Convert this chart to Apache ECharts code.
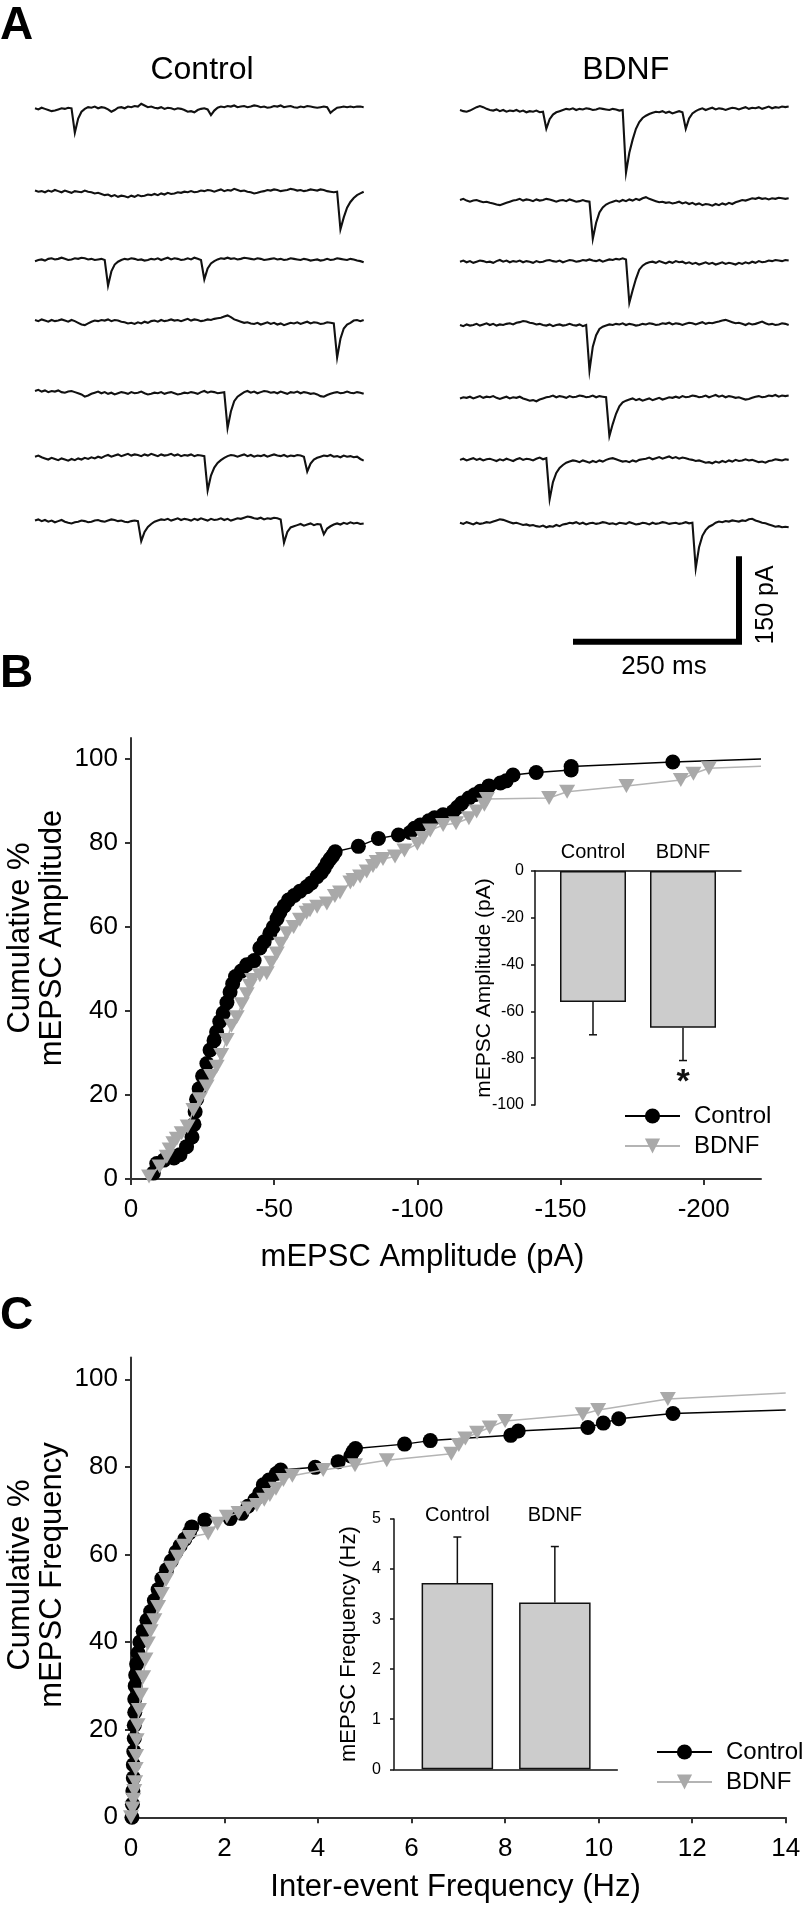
<!DOCTYPE html>
<html><head><meta charset="utf-8">
<script src="https://cdn.jsdelivr.net/npm/echarts@6/dist/echarts.min.js"></script>
<style>html,body{margin:0;padding:0;background:#fff}#c{width:808px;height:1917px}</style>
</head><body><div id="c"></div>
<script>
// ---------------- DATA ----------------
const sampleMs = 5;            // trace sampling step (ms)
const ctrlTrace1 = [0,-2,1,-1,-3,-5,-4,-2,0,-1,1,0,-43,-18,-6,-1,2,1,3,0,2,1,-2,-6,-3,1,2,0,3,2,4,3,8,5,2,3,1,0,2,-1,1,0,-2,0,-1,-3,-6,-5,-7,-3,-1,0,-2,-12,-4,1,3,2,4,3,5,2,3,4,2,3,5,4,2,3,1,2,4,3,5,2,3,4,2,1,3,2,4,3,2,1,2,3,2,-8,-3,1,2,3,2,3,2,3,3,2];
const ctrlTrace2 = [2,0,1,-1,2,0,3,1,-1,2,0,-2,1,0,-1,2,0,-1,-3,-2,-4,-6,-5,-8,-6,-9,-7,-8,-10,-7,-9,-6,-8,-7,-5,-6,-4,-6,-3,-5,-2,-4,-3,-1,-2,0,-1,1,-1,0,2,1,3,2,0,2,4,1,3,2,5,3,1,2,0,-1,-3,-2,0,1,3,2,4,3,1,2,3,5,4,2,3,1,2,4,3,2,4,3,1,0,-1,0,-66,-45,-28,-18,-11,-6,-3,0];
const ctrlTrace3 = [-2,0,1,-1,2,3,1,2,4,2,0,1,3,2,4,3,1,2,0,1,2,0,-45,-20,-8,-3,0,2,1,3,2,0,1,-1,0,2,1,3,0,2,4,1,3,2,0,1,3,1,4,2,0,-34,-15,-6,-2,1,3,2,4,2,3,1,2,4,3,2,1,3,2,0,1,2,3,1,2,0,1,3,2,1,0,2,1,-1,0,1,-1,0,2,0,1,3,2,1,0,2,1,-1,-2,-4];
const ctrlTrace4 = [3,1,4,2,0,3,1,2,4,2,0,3,1,-2,-5,-6,-3,0,2,1,3,2,4,1,3,2,0,-1,-3,-2,-4,-1,-3,0,-2,1,2,0,3,1,2,4,2,3,1,3,5,2,4,3,1,2,4,3,5,6,7,9,11,8,4,2,0,-2,-1,-3,-4,-2,-5,-3,-1,-4,-2,-5,-3,-6,-4,-2,-3,-1,-4,-2,0,-3,-1,-2,-4,-3,-1,-2,-3,-63,-30,-12,-5,-2,2,3,1,3];
const ctrlTrace5 = [3,5,2,4,1,3,2,4,1,0,2,3,1,-1,-3,-7,-5,-2,0,2,-1,1,-2,0,-3,-1,1,0,-2,1,-1,0,2,-1,-3,-2,0,-1,1,-2,0,1,-1,-3,-2,0,-1,1,0,-2,1,3,0,2,1,-1,0,1,-62,-33,-15,-7,-3,1,3,0,2,-1,1,3,2,0,1,-1,2,0,-2,1,0,2,-1,1,0,-2,-1,-3,-6,-7,-4,-2,0,1,-1,0,2,0,-1,1,0,-2];
const ctrlTrace6 = [0,2,-1,-3,-5,-2,-4,-6,-3,-5,-7,-4,-6,-3,-5,-2,-4,-1,-3,0,-2,1,3,0,2,4,1,3,5,2,4,3,1,4,2,5,3,1,4,2,3,5,2,4,1,3,2,4,1,3,2,1,-59,-33,-19,-11,-6,-2,1,3,2,0,2,4,1,3,0,2,1,3,0,2,4,2,1,3,0,2,1,3,2,0,-26,-12,-5,-2,0,2,1,3,0,1,-1,2,0,1,-1,0,-4,-7];
const ctrlTrace7 = [2,4,1,3,0,2,-1,1,3,0,-2,-3,-1,0,2,1,-1,0,2,3,1,0,2,4,3,1,2,0,-1,1,2,1,-34,-18,-9,-4,0,2,4,3,5,2,4,6,3,5,4,2,5,3,6,4,2,5,3,4,6,3,5,2,4,6,5,7,9,8,6,5,7,4,6,5,7,6,4,-37,-18,-10,-8,-6,-4,-7,-5,-3,-6,-4,-5,-22,-12,-8,-5,-3,-5,-2,-4,-1,-3,-2,-4,-3];
const bdnfTrace1 = [0,-2,-3,-1,2,5,7,5,2,0,-1,1,-2,0,-3,-1,-2,0,-3,-1,-4,-2,-3,-1,-4,-3,-33,-16,-8,-4,-2,0,2,1,3,0,2,1,3,2,0,1,3,2,1,0,2,1,-1,0,-110,-75,-52,-33,-21,-14,-10,-7,-5,-3,-4,-2,-5,-3,-6,-4,-2,-4,-33,-15,-6,-2,1,3,0,2,4,1,3,2,0,2,4,3,1,3,5,2,4,3,5,2,4,6,3,5,4,6,5,6];
const bdnfTrace2 = [0,2,-1,-3,-1,0,-2,-4,-3,-5,-6,-8,-9,-7,-5,-3,-1,0,2,-1,1,0,-2,1,-1,0,2,1,-1,-3,-1,0,-2,1,-1,-3,-2,0,-2,-3,-68,-40,-22,-13,-8,-5,-3,-1,-3,0,-2,1,-1,2,0,3,5,2,0,-2,-4,-3,-5,-4,-6,-5,-3,-6,-4,-7,-5,-8,-6,-9,-7,-8,-10,-7,-9,-6,-8,-5,-7,-4,-2,0,-1,1,3,2,4,2,3,1,3,2,4,3,2,3];
const bdnfTrace3 = [0,2,-1,1,-2,0,2,1,-1,0,-2,1,3,0,2,-1,1,0,2,-1,1,0,-2,1,-1,0,2,3,1,0,2,-1,1,3,2,0,1,3,2,4,2,1,3,0,2,4,3,5,4,6,4,-72,-50,-30,-14,-7,-3,-1,0,-2,1,-1,-3,0,-2,1,-1,0,-3,-1,-4,-2,-5,-3,-1,-4,-2,-5,-3,-1,-4,-2,-3,-5,-2,-4,-1,-3,0,-2,1,-1,0,2,1,3,2,1,3,2];
const bdnfTrace4 = [0,-2,1,-1,0,2,-1,1,3,0,2,-1,1,0,2,3,1,4,5,7,6,4,3,1,2,0,-1,1,-2,0,1,-1,0,2,0,-1,1,-2,0,-80,-38,-18,-7,-3,-1,1,0,2,1,3,0,2,1,-1,0,2,1,3,2,0,1,3,2,4,1,3,2,0,2,4,3,1,3,5,2,4,3,5,6,8,9,7,5,3,4,2,0,3,1,2,4,6,3,1,2,0,1,3,2,0];
const bdnfTrace5 = [-3,-1,-2,0,-3,-1,1,-2,0,-1,1,-2,-4,-2,0,-3,-1,-2,0,-3,-5,-7,-6,-8,-5,-3,-1,0,2,-1,1,0,-2,1,-1,0,2,1,-1,0,2,-1,1,0,-1,-69,-48,-30,-17,-10,-7,-5,-3,-6,-4,-7,-5,-3,-6,-4,-2,-5,-3,-1,-2,0,-2,1,-1,0,2,1,-1,0,2,-1,1,3,0,2,-1,1,0,-2,-1,-3,-5,-4,-2,0,1,-1,0,2,1,3,0,2,1,2];
const bdnfTrace6 = [-1,1,-2,0,2,-1,1,-2,0,1,-1,-3,0,-2,1,-1,-3,0,2,-1,1,0,-2,1,3,0,2,-70,-40,-24,-15,-10,-6,-4,-2,-3,-5,-2,-4,-6,-3,-5,-2,-4,-1,1,2,0,-2,-4,-3,-5,-2,-4,-1,0,1,3,0,2,4,1,3,5,2,4,1,3,2,0,-1,-3,-2,-4,-6,-5,-7,-4,-6,-3,-5,-2,-4,-1,-3,-2,0,-2,-1,-3,-5,-4,-6,-3,-2,0,-1,-2,0,-1];
const bdnfTrace7 = [1,-1,2,0,-2,1,-1,0,2,1,3,5,7,6,4,2,0,1,-1,-3,-2,-4,-3,-5,-6,-4,-7,-5,-6,-3,-5,-2,-1,1,0,2,-1,1,-2,0,1,-1,0,2,1,-1,0,-2,1,0,-1,2,0,-2,-1,1,0,-2,1,-1,0,2,1,-1,0,1,-1,0,2,0,1,-79,-42,-22,-12,-6,-3,1,3,2,4,3,5,4,3,5,4,7,8,5,3,1,0,-2,-4,-6,-5,-7,-6,-7];
const scaleBarMs = 250, scaleBarPA = 150;

const groups = ['Control', 'BDNF'];
const pctTicks = [0, 20, 40, 60, 80, 100];
const ampTicks = [0, -50, -100, -150, -200];
const ampControl = [[-7.8,1.4],[-9,3.7],[-11.5,4.5],[-15,5],[-17.1,5.8],[-19.4,7.7],[-21.3,10],[-22,13],[-22.4,16],[-22.9,19],[-23.8,21.5],[-25,24.5],[-26.5,27.5],[-27.6,30.7],[-29,33],[-29.9,35],[-31,37.5],[-32.2,39.5],[-33.5,42],[-34.6,44.5],[-35.5,46.5],[-36.5,48.2],[-38.5,49.5],[-40.4,51],[-43,52],[-45,55],[-46.5,56.5],[-48.5,58.5],[-49.7,60],[-51,62],[-52,63.5],[-53.5,65],[-55,66.4],[-57,67.5],[-59,68.5],[-61.4,69.6],[-63,70.5],[-65,72],[-66.5,73],[-67.5,74],[-68.5,75.2],[-69.5,76.2],[-70.5,77],[-71.3,77.9],[-79.4,79.2],[-86.4,81.1],[-93.4,81.9],[-97.5,82.5],[-99,83.5],[-101,84.3],[-104,85.3],[-106,86],[-109,86.7],[-112.5,87.5],[-114,88.5],[-115.5,89.5],[-118,90.7],[-120,91.5],[-122,92.3],[-125,93.6],[-129,94.3],[-131,94.8],[-133.4,96.2],[-141.5,96.8],[-153.7,97.4],[-153.7,98.2],[-189.2,99.3]];
const ampControlEnd = [-220, 100];
const ampBDNF = [[-6.3,0.6],[-10,3],[-12.5,5.3],[-13.5,7],[-14.8,8.5],[-16,9.6],[-17.7,10.9],[-19.8,12.5],[-21.8,16.4],[-24,19],[-26.4,22],[-28,24.5],[-29.9,26.7],[-31.5,29.5],[-33.4,33.1],[-35.1,36.5],[-36.9,38.5],[-38.7,41.6],[-40.4,44],[-41.5,46],[-42.3,47.4],[-45,48.5],[-47.4,49],[-49,51.5],[-50.9,53.7],[-52.3,56],[-54.4,58.5],[-56.8,60],[-59,61.7],[-61.3,63.4],[-62.5,64],[-65,64.8],[-68.4,65.6],[-71.2,67.4],[-73,68.2],[-76.6,70.6],[-77.7,71.2],[-80,72],[-82.3,73.2],[-84.5,74.5],[-85.8,75.5],[-88,76.2],[-92.2,76.8],[-95.5,78.2],[-100,79.8],[-102,81.2],[-104.5,83],[-109,84.3],[-113.5,84.7],[-118,85.9],[-120.7,87.5],[-123.4,89.1],[-124.3,90.5],[-146,90.7],[-152.3,92.2],[-173,93.6],[-192,95],[-196.4,96.5],[-201.8,97.8]];
const ampBDNFEnd = [-220, 98.3];
const freqControl = [[0.02,0],[0.03,3],[0.04,6],[0.05,9],[0.05,12],[0.06,15],[0.07,18],[0.07,21],[0.08,24],[0.08,27],[0.09,30],[0.1,32.5],[0.12,35],[0.15,37.5],[0.19,40],[0.26,42.5],[0.34,45],[0.42,47],[0.5,49.5],[0.58,52],[0.66,54.5],[0.76,56.5],[0.86,58.5],[0.96,60.5],[1.05,62],[1.15,63.5],[1.25,65],[1.3,66.3],[1.58,67.9],[2.12,68.2],[2.37,69.4],[2.5,71],[2.65,72.5],[2.75,74],[2.83,75.9],[2.95,77],[3.11,78.5],[3.2,79.3],[3.94,79.9],[4.43,81.2],[4.7,82.5],[4.75,83.5],[4.8,84.2],[5.85,85.2],[6.4,86],[8.12,87.2],[8.28,88.2],[9.77,89],[10.1,90],[10.43,91],[11.59,92.2]];
const freqControlEnd = [14, 93];
const freqBDNF = [[0,0],[0.03,2],[0.05,4],[0.07,6],[0.09,8],[0.1,11],[0.11,14],[0.12,17.6],[0.14,21],[0.17,24.5],[0.21,28],[0.26,32],[0.31,36],[0.36,39.7],[0.42,42.5],[0.5,45],[0.58,48],[0.66,51],[0.75,54.2],[0.86,57],[1,59.5],[1.12,62],[1.25,64],[1.65,64.8],[1.85,67],[2.05,68.6],[2.3,69.5],[2.5,70.5],[2.69,71.3],[2.85,72.5],[2.97,73.6],[3.1,75],[3.26,77],[3.45,78],[4.11,79.3],[4.79,80.4],[5.47,81.5],[6.85,83],[7.01,85],[7.15,86.5],[7.4,87.8],[7.67,89],[8,90.5],[9.66,92],[9.99,93],[11.48,95.5]];
const freqBDNFEnd = [14, 96.9];
const ampMean = [-56, -67], ampSem = [14, 14], ampSig = ['', '*'];
const freqMean = [3.72, 3.33], freqSem = [0.92, 1.12], freqSig = ['', ''];

// ---------------- LAYOUT / STYLE ----------------
const FF = "'Liberation Sans', Arial, Helvetica, sans-serif";
const ctrlTraces = [ctrlTrace1, ctrlTrace2, ctrlTrace3, ctrlTrace4, ctrlTrace5, ctrlTrace6, ctrlTrace7];
const bdnfTraces = [bdnfTrace1, bdnfTrace2, bdnfTrace3, bdnfTrace4, bdnfTrace5, bdnfTrace6, bdnfTrace7];
const ctrlBaseY = [108.3, 191.7, 260, 321.7, 392.7, 456.7, 521.7];
const bdnfBaseY = [110, 200, 261.7, 325, 396.7, 459.3, 523.3];
const pxPerPA = 0.57, trMin = -130, trMax = 20, trMs = 500, trW = 332;

const grid = [], xAxis = [], yAxis = [], series = [];
function addGrid(g, xa, ya) {
  const gi = grid.length;
  grid.push(Object.assign({outerBoundsMode: 'none', containLabel: false}, g));
  xAxis.push(Object.assign({gridIndex: gi}, xa));
  yAxis.push(Object.assign({gridIndex: gi}, ya));
  return gi;
}
const hiddenX = {type: 'value', min: 0, max: trMs, show: false};
const hiddenY = {type: 'value', min: trMin, max: trMax, show: false};
function addTrace(tr, left, baseY) {
  const gi = addGrid({left: left, top: baseY - trMax * pxPerPA, width: trW, height: (trMax - trMin) * pxPerPA}, hiddenX, hiddenY);
  series.push({type: 'line', xAxisIndex: gi, yAxisIndex: gi, silent: true, clip: false, symbol: 'none',
    data: tr.map((v, i) => [i * sampleMs, v]), lineStyle: {color: '#111', width: 2.1, join: 'miter'}});
}
ctrlTraces.forEach((t, i) => addTrace(t, 35, ctrlBaseY[i]));
bdnfTraces.forEach((t, i) => addTrace(t, 460, bdnfBaseY[i]));
// scale bar in same units
(function () {
  const gi = addGrid({left: 573, top: 641.7 - scaleBarPA * pxPerPA, width: trW, height: scaleBarPA * pxPerPA},
    hiddenX, {type: 'value', min: 0, max: scaleBarPA, show: false});
  series.push({type: 'line', xAxisIndex: gi, yAxisIndex: gi, silent: true, clip: false, symbol: 'none',
    data: [[0, 0], [scaleBarMs, 0], [scaleBarMs, scaleBarPA]],
    lineStyle: {color: '#000', width: 6, join: 'miter', cap: 'butt'}});
})();

const axLine = {show: true, onZero: false, lineStyle: {color: '#333', width: 2}};
const axTick = {show: true, length: 6, lineStyle: {color: '#333', width: 2}};
const lab = {fontSize: 26, color: '#000', fontFamily: FF};

function mainSeries(gi, ctrl, ctrlEnd, bdnf, bdnfEnd) {
  series.push({name: 'Control', type: 'line', xAxisIndex: gi, yAxisIndex: gi, z: 3, silent: true,
    data: ctrl.concat([{value: ctrlEnd, symbol: 'none'}]), symbol: 'circle', symbolSize: 15,
    itemStyle: {color: '#000'}, lineStyle: {color: '#000', width: 1.5}});
  series.push({name: 'BDNF', type: 'line', xAxisIndex: gi, yAxisIndex: gi, z: 4, silent: true,
    data: bdnf.concat([{value: bdnfEnd, symbol: 'none'}]), symbol: 'triangle', symbolRotate: 180, symbolSize: [16, 14],
    itemStyle: {color: '#a9a9a9'}, lineStyle: {color: '#b4b4b4', width: 1.5}});
}
// Panel B main
const gB = addGrid({left: 131, top: 738, width: 630, height: 441},
  {type: 'value', min: -220, max: 0, inverse: true, axisLine: axLine,
   axisTick: Object.assign({customValues: ampTicks}, axTick),
   axisLabel: Object.assign({customValues: ampTicks, margin: 18}, lab), splitLine: {show: false}},
  {type: 'value', min: 0, max: 105, axisLine: axLine,
   axisTick: Object.assign({customValues: pctTicks}, axTick),
   axisLabel: Object.assign({customValues: pctTicks, margin: 13}, lab), splitLine: {show: false}});
mainSeries(gB, ampControl, ampControlEnd, ampBDNF, ampBDNFEnd);
// Panel C main
const gC = addGrid({left: 131, top: 1357.4, width: 654.7, height: 459.9},
  {type: 'value', min: 0, max: 14, interval: 2, axisLine: axLine, axisTick: axTick,
   axisLabel: Object.assign({margin: 19}, lab), splitLine: {show: false}},
  {type: 'value', min: 0, max: 105, axisLine: axLine,
   axisTick: Object.assign({customValues: pctTicks}, axTick),
   axisLabel: Object.assign({customValues: pctTicks, margin: 13}, lab), splitLine: {show: false}});
mainSeries(gC, freqControl, freqControlEnd, freqBDNF, freqBDNFEnd);

// Insets
const inLine = {show: true, onZero: false, lineStyle: {color: '#111', width: 1.5}};
const inTick = {show: true, length: 4, lineStyle: {color: '#111', width: 1.5}};
function errorBars(gi, means, sems, dir, sig) {
  series.push({type: 'custom', xAxisIndex: gi, yAxisIndex: gi, z: 5, silent: true, clip: false,
    data: means.map((m, i) => [i, m, m + dir * sems[i]]),
    encode: {x: 0, y: [1, 2]},
    renderItem: function (params, api) {
      const p1 = api.coord([api.value(0), api.value(1)]);
      const p2 = api.coord([api.value(0), api.value(2)]);
      const st = {stroke: '#111', lineWidth: 1.5};
      const ch = [
        {type: 'line', shape: {x1: p1[0], y1: p1[1], x2: p2[0], y2: p2[1]}, style: st},
        {type: 'line', shape: {x1: p2[0] - 4, y1: p2[1], x2: p2[0] + 4, y2: p2[1]}, style: st}
      ];
      const s = sig[params.dataIndex];
      if (s) ch.push({type: 'text', x: p2[0], y: p2[1] - dir * 22,
        style: {text: s, font: 'bold 34px ' + FF, fill: '#111', textAlign: 'center', textVerticalAlign: 'middle', align: 'center', verticalAlign: 'middle'}});
      return {type: 'group', children: ch};
    }});
}
// inset B
const iB = addGrid({left: 548, top: 871, width: 180, height: 234},
  {type: 'category', data: groups, position: 'top', axisLine: {show: false}, axisTick: {show: false},
   axisLabel: {fontSize: 20, color: '#000', margin: 9, fontFamily: FF}},
  {type: 'value', min: -100, max: 0, interval: 20, offset: 13, axisLine: inLine, axisTick: inTick,
   axisLabel: {fontSize: 16, color: '#000', margin: 11, fontFamily: FF}, splitLine: {show: false},
   name: 'mEPSC Amplitude (pA)', nameLocation: 'middle', nameGap: 40, nameMoveOverlap: false,
   nameTextStyle: {fontSize: 21, color: '#000', fontFamily: FF}});
series.push({type: 'bar', xAxisIndex: iB, yAxisIndex: iB, data: ampMean, barWidth: 66, silent: true, z: 2,
  itemStyle: {color: '#cccccc', borderColor: '#111', borderWidth: 1.5}});
errorBars(iB, ampMean, ampSem, -1, ampSig);
addGrid({left: 535, top: 871, width: 206, height: 20},
  {type: 'value', min: 0, max: 1, position: 'top', axisLine: inLine, axisTick: {show: false}, axisLabel: {show: false}, splitLine: {show: false}},
  {type: 'value', min: 0, max: 1, show: false});
// inset C
const iC = addGrid({left: 408.6, top: 1519, width: 195, height: 250.3},
  {type: 'category', data: groups, position: 'top', axisLine: {show: false}, axisTick: {show: false},
   axisLabel: {fontSize: 20, color: '#000', margin: -6, fontFamily: FF}},
  {type: 'value', min: 0, max: 5, interval: 1, offset: 14.6, axisLine: inLine, axisTick: inTick,
   axisLabel: {fontSize: 16, color: '#000', margin: 13, fontFamily: FF}, splitLine: {show: false},
   name: 'mEPSC Frequency (Hz)', nameLocation: 'middle', nameGap: 34, nameMoveOverlap: false,
   nameTextStyle: {fontSize: 22, color: '#000', fontFamily: FF}});
series.push({type: 'bar', xAxisIndex: iC, yAxisIndex: iC, data: freqMean, barWidth: 71.5, silent: true, z: 2,
  itemStyle: {color: '#cccccc', borderColor: '#111', borderWidth: 1.5}});
errorBars(iC, freqMean, freqSem, 1, freqSig);
addGrid({left: 394, top: 1749.3, width: 223.3, height: 20},
  {type: 'value', min: 0, max: 1, position: 'bottom', axisLine: inLine, axisTick: {show: false}, axisLabel: {show: false}, splitLine: {show: false}},
  {type: 'value', min: 0, max: 1, show: false});

// texts
function T(text, x, y, size, o) {
  o = o || {};
  const al = o.align || 'center';
  return {type: 'text', x: x, y: y, rotation: o.rot || 0, silent: true, z: 10,
    style: {text: text, font: (o.bold ? 'bold ' : '') + size + 'px ' + FF, fill: '#000',
      textAlign: al, align: al, textVerticalAlign: 'middle', verticalAlign: 'middle', lineHeight: o.lh}};
}
const graphic = [
  T('A', 0, 26.5, 46, {bold: true, align: 'left'}),
  T('B', 0, 674.5, 46, {bold: true, align: 'left'}),
  T('C', 0, 1316, 46, {bold: true, align: 'left'}),
  T('Control', 202, 70, 32),
  T('BDNF', 625.7, 70, 32),
  T('250 ms', 664, 667, 26),
  T('150 pA', 765.7, 605, 25, {rot: Math.PI / 2}),
  T('Cumulative %\nmEPSC Amplitude', 36, 938, 31, {rot: Math.PI / 2, lh: 32}),
  T('mEPSC Amplitude (pA)', 422.5, 1257, 31),
  T('Cumulative %\nmEPSC Frequency', 36, 1575, 31, {rot: Math.PI / 2, lh: 32}),
  T('Inter-event Frequency (Hz)', 455.5, 1887, 31)
];
const legendBase = {orient: 'vertical', data: groups, itemWidth: 55, itemHeight: 19, itemGap: 6, padding: 0,
  selectedMode: false, textStyle: {fontSize: 24, color: '#000', fontFamily: FF, padding: [0, 0, 0, 9]}};

const chart = echarts.init(document.getElementById('c'), null, {renderer: 'canvas'});
chart.setOption({
  animation: false,
  backgroundColor: '#fff',
  textStyle: {fontFamily: FF},
  grid: grid, xAxis: xAxis, yAxis: yAxis, series: series, graphic: graphic,
  legend: [Object.assign({left: 624, top: 1104}, legendBase), Object.assign({left: 656, top: 1740}, legendBase)]
});
</script></body></html>
